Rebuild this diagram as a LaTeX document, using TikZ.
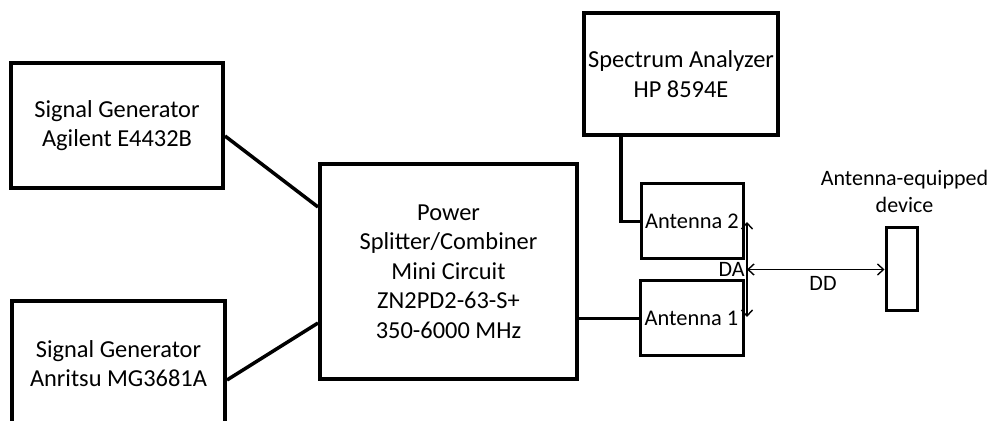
\documentclass[tikz,border=0pt]{standalone}
\usepackage{fontspec}
\setmainfont{Carlito}
\usetikzlibrary{arrows.meta}

\begin{document}
\begin{tikzpicture}[x=0.5pt, y=-0.5pt, >={Straight Barb[length=3pt,width=5.5pt]},
  blocco/.style={draw, line width=2pt, align=center, inner sep=2pt, font=\fontsize{12.2}{14.75}\selectfont},
  antenna/.style={blocco, line width=1.5pt, font=\fontsize{11.2}{14}\selectfont},
  filo/.style={line width=1.75pt},
  misura/.style={<->, line width=0.7pt},
  etich/.style={inner sep=1pt, font=\fontsize{11}{13.5}\selectfont}]

\useasboundingbox (0,0) rectangle (989,421);

% Strumenti
\node[blocco, minimum width=106pt, minimum height=62.5pt] (sgA) at (117,125.5) {Signal Generator\\Agilent E4432B};
\node[blocco, minimum width=106.5pt, minimum height=62.5pt] (sgB) at (118.5,363.5) {Signal Generator\\Anritsu MG3681A};
\node[blocco, minimum width=128.5pt, minimum height=107.5pt] (power) at (448.5,271.5) {Power\\Splitter/Combiner\\Mini Circuit\\ZN2PD2-63-S+\\350-6000 MHz};
\node[blocco, minimum width=95pt, minimum height=61pt] (sa) at (681,74) {Spectrum Analyzer\\HP 8594E};

% Antenne e dispositivo
\node[antenna, minimum width=51pt, minimum height=37.5pt] (ant2) at (692,221.5) {Antenna 2};
\node[antenna, minimum width=51.5pt, minimum height=37.5pt] (ant1) at (691.5,318.5) {Antenna 1};
\node[antenna, minimum width=15.5pt, minimum height=41.5pt] (dev) at (901.5,269.5) {};
\node[etich, align=center] (devlbl) at (904.5,191) {Antenna-equipped\\device};

% Cavi
\draw[filo] ([yshift=-5.25pt]sgA.east) -- ([yshift=32.25pt]power.west);
\draw[filo] ([yshift=-8.25pt]sgB.east) -- ([yshift=-25.75pt]power.west);
\draw[filo] (power.east |- ant1.west) -- (ant1.west);
\draw[filo] ([xshift=-30pt]sa.south) |- (ant2.west);

% Distanze
\coordinate (daTop) at (747,222);
\coordinate (daBot) at (747,317);
\coordinate (daMid) at (747,269.5);
\draw[misura] (daTop) -- (daBot);
\draw[misura] (daMid) -- (dev.west);
\node[etich, anchor=east] (da) at (daMid) {DA};
\node[etich] (dd) at (823,283) {DD};

\end{tikzpicture}
\end{document}
